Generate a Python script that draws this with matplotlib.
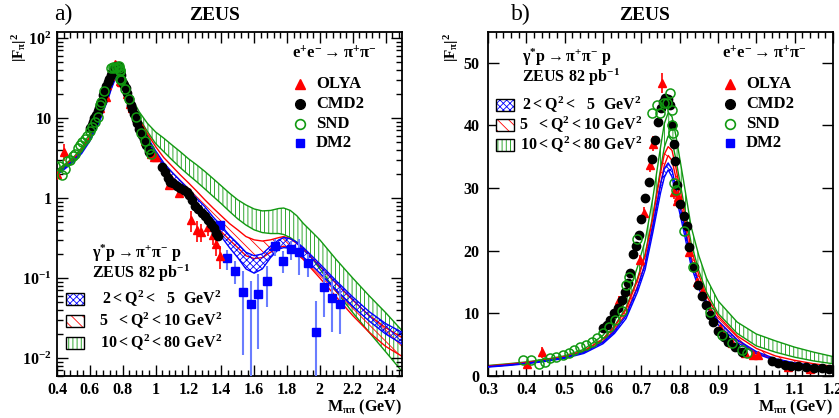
import matplotlib
matplotlib.use("Agg")
import matplotlib.pyplot as plt
from matplotlib.ticker import MultipleLocator, LogLocator, NullFormatter, FuncFormatter
from matplotlib.patches import Rectangle

plt.rcParams['font.family'] = ['Liberation Serif', 'DejaVu Serif']
plt.rcParams['font.weight'] = 'bold'
plt.rcParams['font.size'] = 11
plt.rcParams['mathtext.fontset'] = 'custom'
plt.rcParams['mathtext.rm'] = 'Liberation Serif:bold'
plt.rcParams['mathtext.bf'] = 'Liberation Serif:bold'
plt.rcParams['mathtext.it'] = 'Liberation Serif:bold'
plt.rcParams['mathtext.default'] = 'bf'
plt.rcParams['hatch.linewidth'] = 0.6
plt.rcParams['axes.linewidth'] = 1.3

# --- fitted |F_pi|^2 bands (lower / upper edge), shared by both panels
mass = [0.30, 0.35, 0.40, 0.45, 0.50, 0.55, 0.60, 0.63, 0.66, 0.69,
        0.71, 0.73, 0.75, 0.76, 0.77, 0.78, 0.79, 0.81, 0.83, 0.85,
        0.87, 0.90, 0.95, 1.00, 1.05, 1.10, 1.15, 1.20, 1.25, 1.30,
        1.35, 1.40, 1.45, 1.50, 1.55, 1.60, 1.65, 1.70, 1.75, 1.78,
        1.82, 1.86, 1.90, 1.95, 2.00, 2.10, 2.20, 2.30, 2.40, 2.50]

blue_lo = [1.42, 1.66, 1.95, 2.33, 2.82, 3.60, 5.15, 6.80, 9.15, 13.4,
           17.0, 22.9, 29.2, 31.7, 32.9, 31.8, 28.8, 23.3, 17.5, 14.0,
           11.1, 8.2, 5.35, 3.55, 2.45, 1.80, 1.40, 1.10, 0.83, 0.62,
           0.45, 0.33, 0.24, 0.18, 0.13, 0.115, 0.13, 0.18, 0.23, 0.24,
           0.235, 0.21, 0.18, 0.145, 0.115, 0.07, 0.044, 0.029, 0.020, 0.015]
blue_hi = [1.50, 1.75, 2.05, 2.45, 2.96, 3.78, 5.40, 7.15, 9.60, 14.1,
           17.9, 24.0, 30.6, 33.1, 34.0, 33.0, 30.0, 24.5, 18.4, 14.8,
           11.8, 8.8, 5.8, 3.9, 2.75, 2.10, 1.65, 1.30, 0.99, 0.78,
           0.58, 0.45, 0.34, 0.27, 0.21, 0.19, 0.20, 0.25, 0.30, 0.32,
           0.31, 0.28, 0.24, 0.19, 0.15, 0.092, 0.058, 0.038, 0.027, 0.021]

red_lo = [1.50, 1.74, 2.04, 2.42, 2.90, 3.78, 5.50, 7.35, 9.95, 14.3,
          18.0, 23.8, 30.6, 33.6, 35.2, 34.4, 31.7, 25.2, 18.9, 15.0,
          11.9, 8.8, 5.7, 3.7, 2.55, 1.85, 1.45, 1.15, 0.88, 0.68,
          0.51, 0.38, 0.30, 0.24, 0.19, 0.175, 0.18, 0.21, 0.24, 0.25,
          0.235, 0.20, 0.17, 0.13, 0.10, 0.058, 0.034, 0.021, 0.014, 0.0105]
red_hi = [1.60, 1.86, 2.17, 2.58, 3.10, 4.02, 5.90, 7.85, 10.6, 15.3,
          19.2, 25.2, 32.4, 35.4, 36.6, 36.0, 33.3, 26.8, 20.2, 16.1,
          12.8, 9.6, 6.4, 4.4, 3.2, 2.5, 1.95, 1.55, 1.22, 0.95,
          0.75, 0.60, 0.48, 0.40, 0.33, 0.30, 0.29, 0.30, 0.32, 0.33,
          0.31, 0.27, 0.23, 0.18, 0.14, 0.085, 0.053, 0.034, 0.024, 0.018]

green_lo = [1.55, 1.80, 2.10, 2.48, 3.00, 3.95, 5.9, 8.0, 10.9, 15.6,
            19.5, 25.6, 33.0, 36.5, 38.3, 37.6, 34.6, 27.8, 21.2, 16.8,
            13.4, 10.0, 6.8, 4.8, 3.8, 3.0, 2.4, 1.95, 1.6, 1.3,
            1.05, 0.85, 0.68, 0.55, 0.46, 0.40, 0.37, 0.36, 0.36, 0.35,
            0.32, 0.28, 0.23, 0.18, 0.13, 0.068, 0.037, 0.021, 0.012, 0.0068]
green_hi = [1.68, 1.94, 2.25, 2.66, 3.22, 4.25, 6.5, 8.8, 12.1, 17.4,
            21.6, 28.4, 36.5, 40.3, 42.0, 41.4, 38.4, 31.2, 23.8, 19.2,
            15.6, 12.0, 8.6, 6.7, 5.6, 4.6, 3.8, 3.1, 2.6, 2.15,
            1.75, 1.42, 1.15, 0.95, 0.82, 0.73, 0.69, 0.70, 0.74, 0.75,
            0.70, 0.60, 0.48, 0.38, 0.30, 0.17, 0.10, 0.060, 0.037, 0.022]

# --- e+e- -> pi+pi- measurements
olya_m = [0.401, 0.440, 0.643, 0.660, 0.697, 0.706, 0.723, 0.731, 0.755, 0.785,
          0.792, 0.796, 0.825, 0.846, 0.857, 0.879, 0.905, 0.936, 0.970, 0.992,
          1.005, 1.083, 1.140, 1.218, 1.255, 1.279, 1.320, 1.352, 1.370, 1.394]
olya_v = [1.97, 3.8, 12.1, 13.5, 18.5, 26.0, 33.7, 37.1, 46.7, 29.3,
          28.0, 28.5, 19.8, 15.0, 13.4, 10.2, 7.6, 5.2, 3.6, 3.3,
          3.3, 1.44, 1.17, 0.53, 0.40, 0.38, 0.44, 0.35, 0.27, 0.19]
olya_e = [0.3, 0.9, 0.6, 0.6, 0.8, 1.0, 1.2, 1.2, 1.6, 1.0,
          1.0, 1.0, 0.8, 0.6, 0.6, 0.5, 0.4, 0.3, 0.3, 0.3,
          0.3, 0.15, 0.15, 0.15, 0.12, 0.10, 0.10, 0.09, 0.08, 0.06]

cmd2_m = [0.600, 0.610, 0.618, 0.628, 0.639, 0.649, 0.657, 0.664, 0.671, 0.679,
          0.686, 0.693, 0.700, 0.710, 0.719, 0.729, 0.736, 0.744, 0.750, 0.756,
          0.762, 0.770, 0.776, 0.781, 0.784, 0.787, 0.792, 0.800, 0.810, 0.818,
          0.825, 0.837, 0.849, 0.858, 0.868, 0.878, 0.888, 0.901, 0.916, 0.927,
          0.944, 0.962, 1.040, 1.057, 1.075, 1.090, 1.108, 1.130, 1.150, 1.170,
          1.190, 1.205, 1.220, 1.240, 1.260, 1.280, 1.300, 1.320, 1.340, 1.355,
          1.370, 1.380]
cmd2_v = [7.6, 8.2, 8.9, 10.0, 10.8, 12.1, 13.4, 14.8, 16.4, 19.5,
          20.7, 22.5, 25.0, 28.4, 31.0, 34.6, 37.6, 40.5, 42.7, 43.7,
          44.3, 44.2, 43.2, 40.0, 37.1, 34.3, 30.5, 27.5, 25.6, 24.0,
          20.6, 17.4, 14.5, 12.8, 11.3, 9.8, 8.6, 7.2, 6.2, 5.4,
          4.6, 3.8, 2.45, 2.1, 1.8, 1.6, 1.55, 1.42, 1.35, 1.27,
          1.18, 1.08, 0.95, 0.80, 0.72, 0.65, 0.59, 0.53, 0.47, 0.42,
          0.37, 0.34]

snd_m = [0.390, 0.412, 0.432, 0.448, 0.462, 0.478, 0.495, 0.510, 0.525, 0.540,
         0.555, 0.570, 0.585, 0.600, 0.615, 0.631, 0.649, 0.660, 0.668, 0.688,
         0.728, 0.740, 0.749, 0.760, 0.766, 0.775, 0.779, 0.781, 0.783, 0.786,
         0.790, 0.812, 0.836, 0.879, 0.910, 0.936, 0.962, 0.975]
snd_v = [2.5, 2.5, 1.95, 2.3, 2.9, 3.0, 3.4, 3.6, 4.2, 4.6,
         5.0, 5.4, 6.0, 6.8, 7.8, 8.9, 10.3, 14.6, 15.8, 21.9,
         42.0, 43.3, 41.9, 43.5, 43.5, 45.1, 42.4, 40.0, 38.8, 30.8,
         29.7, 23.2, 17.4, 10.2, 6.5, 5.2, 4.1, 3.6]

dm2_m = [1.395, 1.432, 1.483, 1.532, 1.579, 1.625, 1.676, 1.727, 1.778, 1.824,
         1.875, 1.926, 1.977, 2.025, 2.075, 2.125]
dm2_v = [0.46, 0.176, 0.124, 0.066, 0.048, 0.063, 0.093, 0.25, 0.165, 0.23,
         0.21, 0.152, 0.0214, 0.078, 0.056, 0.048]
dm2_e = [0.05, 0.05, 0.04, 0.055, 0.045, 0.05, 0.05, 0.06, 0.05, 0.06,
         0.1, 0.05, 0.03, 0.045, 0.035, 0.028]

q2_labels = [r'$2 < Q^{2} <\ \ 5\ \ GeV^{2}$',
             r'$5\ \ < Q^{2} < 10\ GeV^{2}$',
             r'$10 < Q^{2} < 80\ GeV^{2}$']
exp_labels = ['OLYA', 'CMD2', 'SND', 'DM2']

RED = '#ff0000'
GREEN = '#119911'
BLUE = '#0000ff'

bands = [(green_lo, green_hi, GREEN, '||||', 1),
         (red_lo, red_hi, RED, '\\\\\\', 2),
         (blue_lo, blue_hi, BLUE, 'xxxxx', 3)]

fig = plt.figure(figsize=(8.39, 4.18), dpi=100)
axL = fig.add_axes([57 / 839, 42 / 418, 345 / 839, 344 / 418])
axR = fig.add_axes([488 / 839, 42 / 418, 345 / 839, 344 / 418])


def draw_panel(ax):
    for lo, hi, col, hatch, z in bands:
        ax.fill_between(mass, lo, hi, facecolor='none', edgecolor=col,
                        hatch=hatch, linewidth=0, zorder=z)
        ax.plot(mass, lo, color=col, lw=1.0, zorder=z)
        ax.plot(mass, hi, color=col, lw=1.0, zorder=z)
    ax.errorbar(dm2_m, dm2_v, yerr=dm2_e, fmt='s', color=BLUE, ms=5.5,
                ecolor='#6a7dff', elinewidth=1.5, capsize=0, zorder=6)
    ax.plot(cmd2_m, cmd2_v, 'o', color='black', ms=6, zorder=7)
    ax.errorbar(olya_m, olya_v, yerr=olya_e, fmt='^', color=RED, ms=6,
                elinewidth=1.2, capsize=0, zorder=6)
    ax.plot(snd_m, snd_v, 'o', mfc='none', mec=GREEN, mew=1.1, ms=6.5, zorder=8)
    ax.tick_params(which='both', direction='in', top=True, right=True,
                   labelsize=11.5, pad=4)
    ax.tick_params(which='major', length=8, width=1)
    ax.tick_params(which='minor', length=4, width=1)


def ee_legend(ax, x0, y0):
    ax.text(x0 + 0.1, y0, r'$e^{+}e^{-}\rightarrow\pi^{+}\pi^{-}$',
            transform=ax.transAxes, ha='center', va='center', fontsize=12)
    styles = [dict(marker='^', color=RED, ms=7),
              dict(marker='o', color='black', ms=7),
              dict(marker='o', mfc='none', mec=GREEN, mew=1.2, ms=7),
              dict(marker='s', color=BLUE, ms=6)]
    for i, (lab, st) in enumerate(zip(exp_labels, styles)):
        y = y0 - 0.087 - i * 0.058
        ax.plot([x0], [y], transform=ax.transAxes, clip_on=False, ls='none', **st)
        ax.text(x0 + 0.047, y, lab, transform=ax.transAxes, ha='left',
                va='center', fontsize=12)


def zeus_legend(ax, xt, yt, xb, xr, ys):
    ax.text(xt, yt, r'$\gamma^{*}p\rightarrow\pi^{+}\pi^{-}\ p$',
            transform=ax.transAxes, ha='left', va='center', fontsize=11.5)
    ax.text(xt, yt - 0.06, r'$ZEUS\ 82\ pb^{-1}$',
            transform=ax.transAxes, ha='left', va='center', fontsize=11.5)
    for i, (lo, hi, col, hatch, z) in enumerate(bands[::-1]):
        y = ys[i]
        ax.add_patch(Rectangle((xb, y - 0.018), 0.053, 0.036, transform=ax.transAxes,
                               facecolor='white', edgecolor=col, hatch=hatch,
                               lw=0, zorder=10))
        ax.add_patch(Rectangle((xb, y - 0.018), 0.053, 0.036, transform=ax.transAxes,
                               facecolor='none', edgecolor='black', lw=1, zorder=11))
        ax.text(xr, y, q2_labels[i], transform=ax.transAxes, ha='right',
                va='center', fontsize=11.5)


# ---- panel a)
draw_panel(axL)
axL.set_yscale('log')
axL.set_xlim(0.4, 2.5)
axL.set_ylim(0.00596, 119)
axL.xaxis.set_major_locator(MultipleLocator(0.2))
axL.xaxis.set_minor_locator(MultipleLocator(0.04))
axL.xaxis.set_major_formatter(FuncFormatter(lambda x, p: f'{x:g}'))
axL.set_yticks([0.01, 0.1, 1, 10, 100])
axL.set_yticklabels([r'$10^{-2}$', r'$10^{-1}$', '1', '10', r'$10^{2}$'])
axL.yaxis.set_minor_locator(LogLocator(subs=range(2, 10)))
axL.yaxis.set_minor_formatter(NullFormatter())
ee_legend(axL, 0.704, 0.937)
zeus_legend(axL, 0.10, 0.357, 0.026, 0.478,
            [(376 - 299) / 344, (376 - 321) / 344, (376 - 343) / 344])

# ---- panel b)
draw_panel(axR)
axR.set_xlim(0.3, 1.2)
axR.set_ylim(0, 54.9)
axR.xaxis.set_major_locator(MultipleLocator(0.1))
axR.xaxis.set_minor_locator(MultipleLocator(0.02))
axR.xaxis.set_major_formatter(FuncFormatter(lambda x, p: f'{x:g}'))
axR.yaxis.set_major_locator(MultipleLocator(10))
axR.tick_params(axis='y', which='minor', left=False, right=False)
axR.tick_params(axis='y', pad=6)
ee_legend(axR, 0.701, 0.937)
zeus_legend(axR, 0.099, 0.927, 0.023, 0.446,
            [(376 - 105) / 344, (376 - 125) / 344, (376 - 145) / 344])

# ---- titles and axis labels
for xc, tag, xtag in [(215, 'a)', 63), (645, 'b)', 521)]:
    fig.text(xc / 839, 1 - 15 / 418, 'ZEUS', ha='center', va='center',
             fontsize=14, fontweight='bold')
    fig.text(xtag / 839, 1 - 14 / 418, tag, ha='center', va='center',
             fontsize=17, fontweight='normal')
fig.text(20 / 839, 1 - 33 / 418, r'$|F_{\pi}|^{2}$', rotation=90,
         ha='center', va='top', fontsize=11)
fig.text(452 / 839, 1 - 33 / 418, r'$|F_{\pi}|^{2}$', rotation=90,
         ha='center', va='top', fontsize=11)
fig.text(402 / 839, 1 - 407 / 418, r'$M_{\pi\pi}$ (GeV)', ha='right',
         va='center', fontsize=11.5)
fig.text(833 / 839, 1 - 407 / 418, r'$M_{\pi\pi}$ (GeV)', ha='right',
         va='center', fontsize=11.5)

fig.savefig('out.png', dpi=100)
